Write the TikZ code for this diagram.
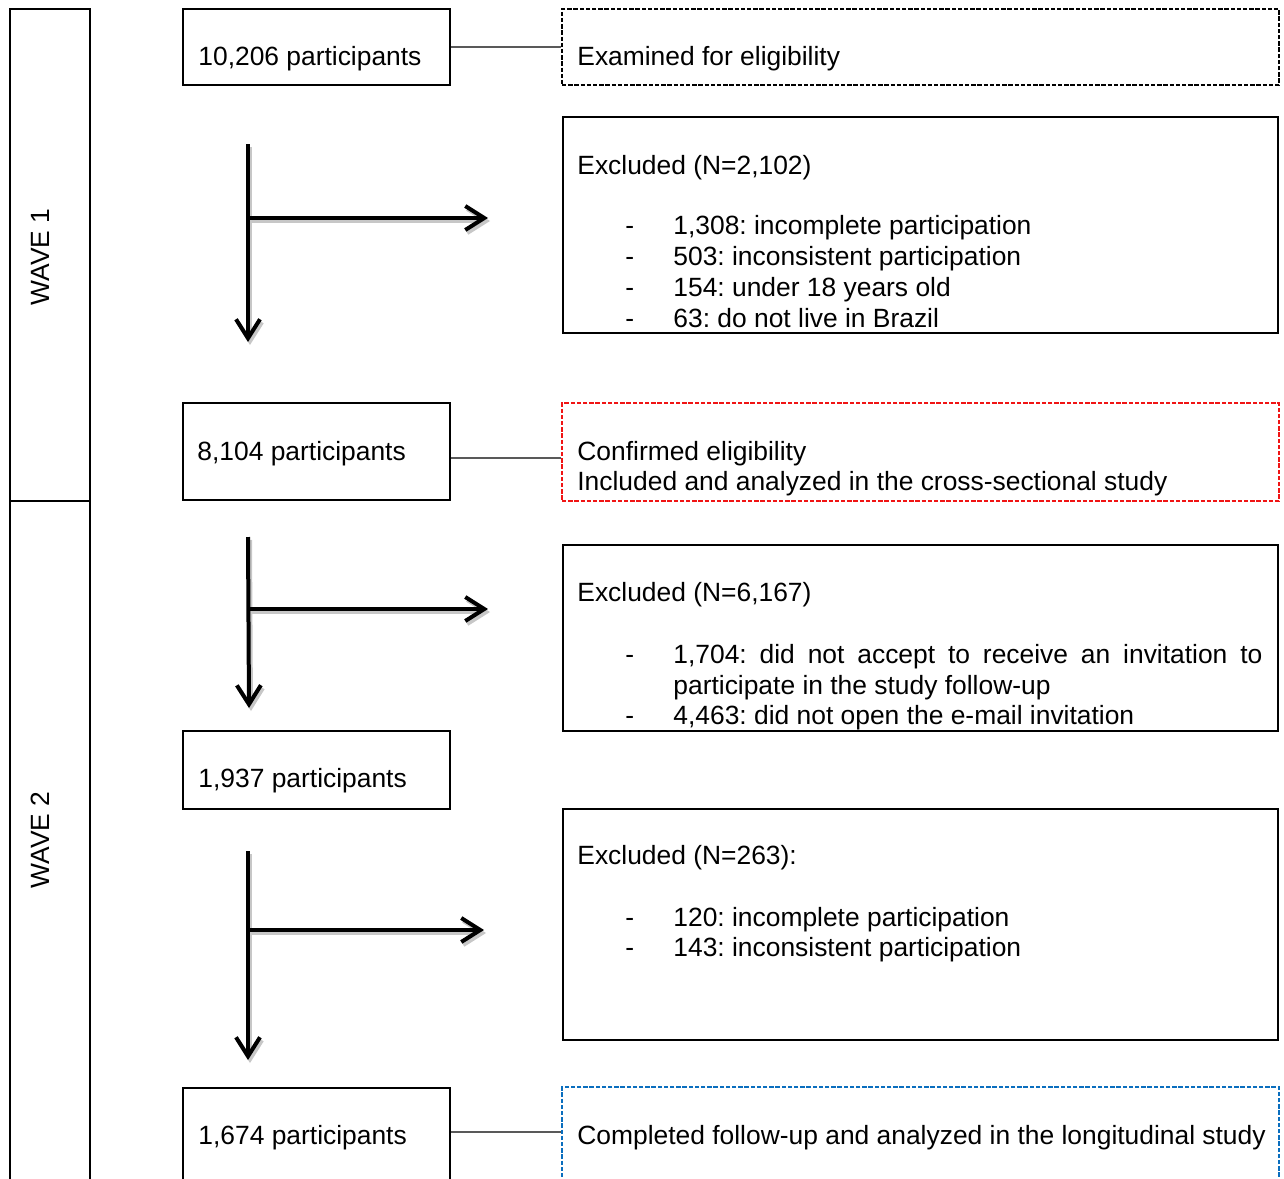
\documentclass[tikz,border=0pt]{standalone}
\usepackage{fontspec}
\setmainfont{Liberation Sans}
\usetikzlibrary{arrows.meta,fit}
\definecolor{redd}{RGB}{240,20,20}
\definecolor{blued}{RGB}{10,110,190}
\frenchspacing
\begin{document}
\begin{tikzpicture}[x=0.5pt,y=-0.5pt,
  box/.style={draw=black,line width=1pt,inner sep=0pt},
  dbox/.style={draw=black,line width=0.8pt,dash pattern=on 2.2pt off 0.9pt,inner sep=0pt},
  txt/.style={anchor=base west,inner sep=0pt,font=\fontsize{13.2}{15.5}\selectfont},
  wave/.style={rotate=90,inner sep=0pt,font=\fontsize{13.2}{15.5}\selectfont},
  conn/.style={draw=black!65,line width=0.6pt},
  flow/.style={line width=2pt,-{Straight Barb[length=9.5pt,width=12pt]}},
  flowsh/.style={flow,draw=black!22,transform canvas={shift={(1pt,-1.5pt)}}}
]
\useasboundingbox (0,0) rectangle (1284,1178);

% wave boxes
\node[box,fit={(10,9)(90,501)}] (w1) {};
\node[box,fit={(10,501)(90,1210)}] (w2) {};
\node[wave] (w1l) at (40,257) {WAVE 1};
\node[wave] (w2l) at (40,840) {WAVE 2};

% left boxes
\node[box,fit={(183,9)(450,85)}] (b1) {};
\node[box,fit={(183,403)(450,500)}] (b2) {};
\node[box,fit={(183,731)(450,809)}] (b3) {};
\node[box,fit={(183,1088)(450,1210)}] (b4) {};
\node[txt] (t1) at (198,65.5) {10,206 participants};
\node[txt] (t2) at (197,460.5) {8,104 participants};
\node[txt] (t3) at (198,787.5) {1,937 participants};
\node[txt] (t4) at (198,1144.5) {1,674 participants};

% right boxes
\node[dbox,fit={(562,9)(1279,85)}] (e0) {};
\node[box,fit={(563,117)(1278,333)}] (x1) {};
\node[dbox,draw=redd,fit={(562,403)(1279,501)}] (c2) {};
\node[box,fit={(563,545)(1278,731)}] (x2) {};
\node[box,fit={(563,809)(1278,1040)}] (x3) {};
\node[dbox,draw=blued,fit={(562,1087)(1279,1210)}] (c4) {};

\node[txt] (te0) at (577,65.5) {Examined for eligibility};

\node[txt] (tx1) at (577,174.5) {Excluded (N=2,102)};
\node[txt] (d11) at (625,234.5) {-};
\node[txt] (i11) at (673,234.5) {1,308: incomplete participation};
\node[txt] (d12) at (625,265.5) {-};
\node[txt] (i12) at (673,265.5) {503: inconsistent participation};
\node[txt] (d13) at (625,296.5) {-};
\node[txt] (i13) at (673,296.5) {154: under 18 years old};
\node[txt] (d14) at (625,327.5) {-};
\node[txt] (i14) at (673,327.5) {63: do not live in Brazil};

\node[txt] (tc2a) at (577,460.5) {Confirmed eligibility};
\node[txt] (tc2b) at (577,490.5) {Included and analyzed in the cross-sectional study};

\node[txt] (tx2) at (577,601.5) {Excluded (N=6,167)};
\node[txt] (d21) at (625,663.5) {-};
\node[txt] (i21) at (673,663.5) {\parbox[t]{294.5pt}{\fontsize{13.2}{15.5}\selectfont 1,704: did not accept to receive an invitation to\linebreak participate in the study follow-up}};
\node[txt] (d22) at (625,724.5) {-};
\node[txt] (i22) at (673,724.5) {4,463: did not open the e-mail invitation};

\node[txt] (tx3) at (577,864.5) {Excluded (N=263):};
\node[txt] (d31) at (625,926.5) {-};
\node[txt] (i31) at (673,926.5) {120: incomplete participation};
\node[txt] (d32) at (625,956.5) {-};
\node[txt] (i32) at (673,956.5) {143: inconsistent participation};

\node[txt] (tc4) at (577,1144.5) {Completed follow-up and analyzed in the longitudinal study};

% connectors
\coordinate (cy2) at (0,458);
\coordinate (cy4) at (0,1132);
\draw[conn] (b1.east) -- (e0.west);
\draw[conn] (b2.east |- cy2) -- (c2.west |- cy2);
\draw[conn] (b4.east |- cy4) -- (c4.west |- cy4);

% flow arrows
\coordinate (a1s) at (248,144); \coordinate (a1e) at (248,342);
\coordinate (a1m) at (248,218); \coordinate (a1h) at (488,218);
\coordinate (a2s) at (248,537); \coordinate (a2e) at (249,708);
\coordinate (a2m) at (248,609); \coordinate (a2h) at (488,609);
\coordinate (a3s) at (248,851); \coordinate (a3e) at (248,1060);
\coordinate (a3m) at (248,930); \coordinate (a3h) at (484,930);

\foreach \s/\e/\m/\h in {a1s/a1e/a1m/a1h,a2s/a2e/a2m/a2h,a3s/a3e/a3m/a3h}{
  \draw[flowsh] (\s) -- (\e);
  \draw[flowsh] (\m) -- (\h);
  \draw[flow] (\s) -- (\e);
  \draw[flow] (\m) -- (\h);
}
\end{tikzpicture}
\end{document}
